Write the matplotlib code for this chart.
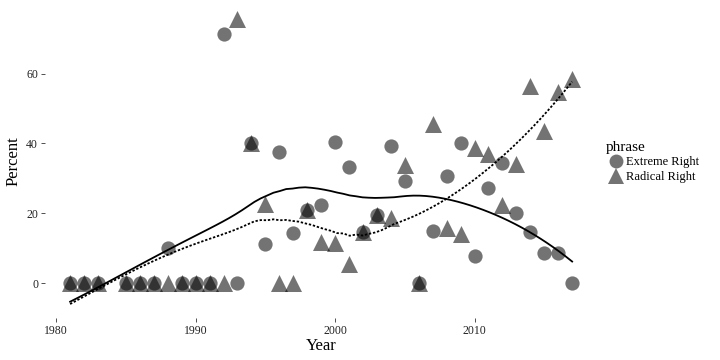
import numpy as np
import matplotlib
matplotlib.use("Agg")
import matplotlib.pyplot as plt
from matplotlib.lines import Line2D

years = [1981, 1982, 1983, 1985, 1986, 1987, 1988, 1989, 1990, 1991, 1992, 1993,
         1994, 1995, 1996, 1997, 1998, 1999, 2000, 2001, 2002, 2003, 2004, 2005,
         2006, 2007, 2008, 2009, 2010, 2011, 2012, 2013, 2014, 2015, 2016, 2017]
extreme = [0, 0, 0, 0, 0, 0, 10, 0, 0, 0, 71.5, 0,
           40, 11.2, 37.6, 14.4, 21, 22.4, 40.5, 33.3, 14.5, 19.5, 39.4, 29.3,
           0, 15, 30.7, 40, 7.8, 27.3, 34.5, 20.1, 14.7, 8.6, 8.6, 0]
radical = [0, 0, 0, 0, 0, 0, 0, 0, 0, 0, 0, 75.6,
           40, 22.7, 0, 0, 21, 11.8, 11.5, 5.5, 14.5, 19.5, 18.7, 33.9,
           0, 45.7, 15.8, 14, 38.8, 37, 22.4, 34.2, 56.6, 43.7, 54.9, 58.6]


def loess(x, y, xs, span=0.75):
    # local quadratic fit with tricube weights (like R's loess defaults)
    x = np.asarray(x, float)
    y = np.asarray(y, float)
    q = int(np.floor(span * len(x)))
    out = []
    for x0 in xs:
        d = np.abs(x - x0)
        h = np.sort(d)[q - 1]
        w = np.clip(1 - (d / h) ** 3, 0, None) ** 3
        X = np.vstack([np.ones_like(x), x - x0, (x - x0) ** 2]).T
        W = np.sqrt(w)
        beta = np.linalg.lstsq(X * W[:, None], y * W, rcond=None)[0]
        out.append(beta[0])
    return np.array(out)


plt.rcParams["font.family"] = ["Liberation Serif", "DejaVu Serif"]

fig = plt.figure(figsize=(7.2, 3.6), dpi=100)
ax = fig.add_axes([0.0625, 0.117, 0.767, 0.869])

ax.scatter(years, extreme, s=105, marker="o", color="black", alpha=0.55,
           linewidths=0, zorder=2)
ax.scatter(years, radical, s=150, marker="^", color="black", alpha=0.55,
           linewidths=0, zorder=2)

xs = np.linspace(min(years), max(years), 80)
ax.plot(xs, loess(years, extreme, xs), color="black", lw=1.3, zorder=3)
ax.plot(xs, loess(years, radical, xs), color="black", lw=1.3,
        linestyle=(0, (1.3, 1.0)), zorder=3)

ax.set_xlim(1979.2, 2018.8)
ax.set_ylim(-10, 79.7)
ax.set_xticks([1980, 1990, 2000, 2010])
ax.set_yticks([0, 20, 40, 60])
for s in ax.spines.values():
    s.set_visible(False)
ax.tick_params(axis="both", length=3, width=0.6, color="#333333",
               labelsize=8.5, labelcolor="#222222", pad=2)
ax.set_xlabel("Year", fontsize=12, labelpad=1)
ax.set_ylabel("Percent", fontsize=12, labelpad=3)

handles = [
    Line2D([], [], marker="o", linestyle="", color="black", alpha=0.55,
           markersize=10, markeredgewidth=0, label="Extreme Right"),
    Line2D([], [], marker="^", linestyle="", color="black", alpha=0.55,
           markersize=12, markeredgewidth=0, label="Radical Right"),
]
fig.legend(handles=handles, title="phrase", loc="center left",
           bbox_to_anchor=(0.835, 0.55), frameon=False, fontsize=9,
           title_fontsize=11, handletextpad=0.0, labelspacing=0.2,
           handlelength=1.6, alignment="left", borderaxespad=0)

fig.savefig("out.png", dpi=100)
